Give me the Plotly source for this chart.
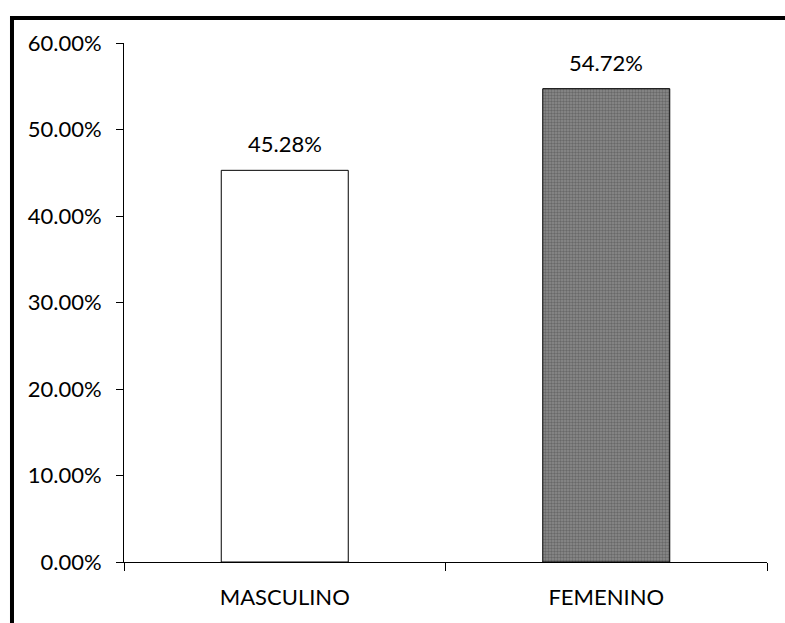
import plotly.graph_objects as go

# Distribución por sexo
categorias = ["MASCULINO", "FEMENINO"]
porcentajes = [45.28, 54.72]
etiquetas = [f"{v:.2f}%" for v in porcentajes]

FONT = "Lato, 'Open Sans', sans-serif"
SIZE = 22

fig = go.Figure()

fig.add_trace(go.Bar(
    x=categorias,
    y=porcentajes,
    width=0.395,
    marker=dict(
        color=["#ffffff", "#8c8c8c"],
        line=dict(color="#000000", width=1),
        pattern=dict(
            shape=["", "."],
            fgcolor="#1a1a1a",
            bgcolor="#c4c4c4",
            size=3,
            solidity=0.5,
        ),
    ),
    hoverinfo="skip",
    showlegend=False,
))

# Etiquetas de valor sobre cada barra
for cat, val, txt in zip(categorias, porcentajes, etiquetas):
    fig.add_annotation(
        x=cat, y=val, text=txt, showarrow=False,
        yanchor="bottom", yshift=11,
        font=dict(family=FONT, size=SIZE, color="#000000"),
    )

# Marco del gráfico (borde grueso)
fig.add_shape(
    type="rect", xref="paper", yref="paper",
    x0=-0.1742, x1=1.05, y0=-0.2, y1=1.0482,
    line=dict(color="#000000", width=4),
    fillcolor="rgba(0,0,0,0)", layer="below",
)

fig.update_layout(
    width=785, height=623,
    margin=dict(l=124, r=18, t=43, b=61, pad=0),
    paper_bgcolor="#ffffff",
    plot_bgcolor="#ffffff",
    font=dict(family=FONT, size=SIZE, color="#000000"),
    xaxis=dict(
        type="category",
        showline=True, linecolor="#000000", linewidth=1,
        ticks="outside", tickson="boundaries", ticklen=8,
        tickcolor="#000000", tickwidth=1,
        showgrid=False, zeroline=False,
        ticklabelstandoff=16,
        tickfont=dict(family=FONT, size=SIZE, color="#000000"),
    ),
    yaxis=dict(
        range=[0, 60], dtick=10, tickformat=".2f", ticksuffix="%",
        showline=True, linecolor="#000000", linewidth=1,
        ticks="outside", ticklen=7, tickcolor="#000000", tickwidth=1,
        showgrid=False, zeroline=False,
        ticklabelstandoff=10,
        tickfont=dict(family=FONT, size=SIZE, color="#000000"),
    ),
)

fig.write_html("out.html")
